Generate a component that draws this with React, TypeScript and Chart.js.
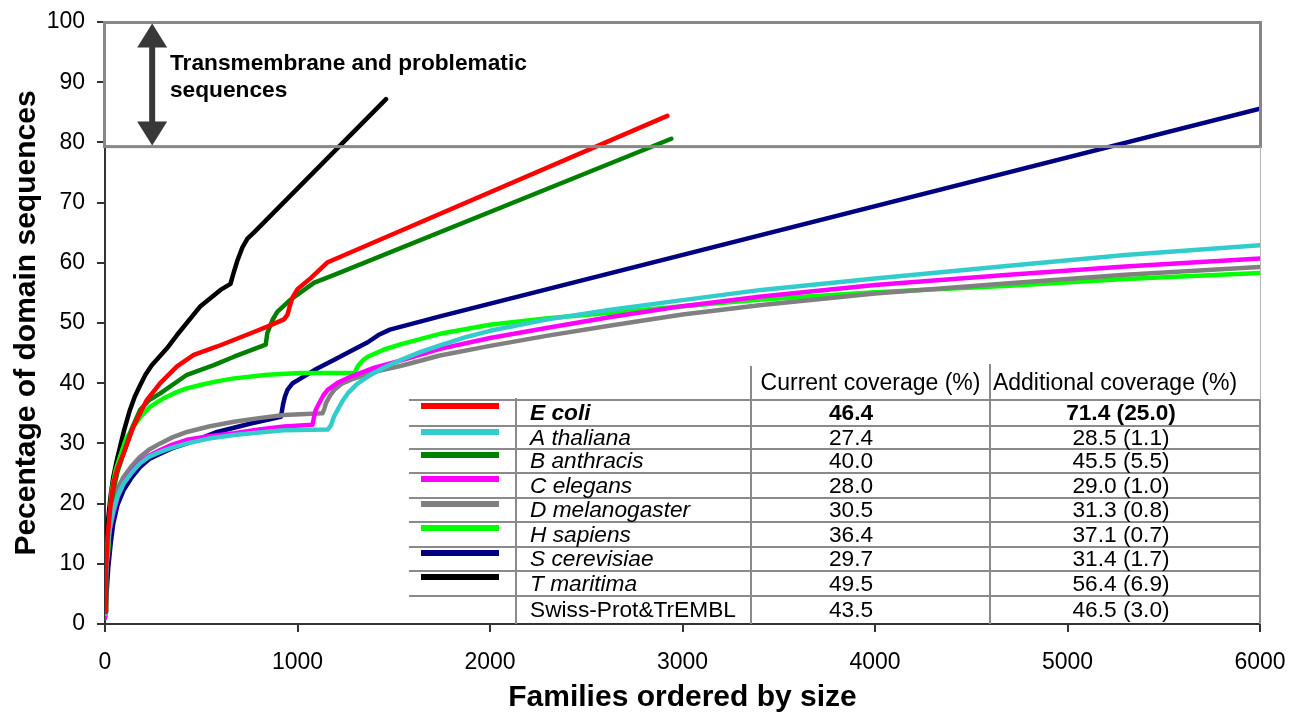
import React, { useEffect, useRef } from 'react';
import { Chart, registerables } from 'chart.js';

Chart.register(...registerables);

const FONT = "'Liberation Sans', Arial, Helvetica, sans-serif";

// ---- data: [families, percentage] ----
const eColi: [number, number][] = [
  [0, 2], [5, 9], [15, 15], [28, 19.5], [43, 23.3], [65, 25.8], [96, 28.3], [148, 32.8], [217, 37.2],
  [287, 40], [374, 42.8], [461, 44.7], [583, 46.1], [757, 48.3], [843, 49.4], [930, 50.6], [948, 51.4],
  [960, 52.8], [975, 54.3], [1000, 55.6], [1070, 57.5], [1157, 60.1], [2921, 84.4],
];
const aThaliana: [number, number][] = [
  [0, 1.7], [5, 8], [12, 12.2], [25, 16], [43, 18.9], [65, 21.2], [96, 23.3], [140, 25.2], [183, 26.7],
  [230, 27.8], [287, 28.6], [350, 29.3], [426, 30], [540, 30.8], [670, 31.4], [800, 31.8], [930, 32.2],
  [1157, 32.3], [1174, 33], [1190, 34.5], [1209, 35.6], [1235, 37.1], [1261, 38.3], [1310, 39.9],
  [1365, 41.1], [1450, 42.6], [1539, 43.9], [1640, 45.2], [1740, 46.3], [1870, 47.6], [2000, 48.7],
  [2300, 50.6], [2627, 52.2], [3000, 53.8], [3410, 55.5], [4000, 57.4], [4697, 59.5], [5300, 61.3],
  [6000, 62.9],
];
const bAnthracis: [number, number][] = [
  [0, 2], [5, 9], [15, 14.5], [28, 18.5], [43, 22.2], [65, 25.3], [96, 28.3], [140, 32.5], [183, 35.6],
  [230, 37.2], [287, 38.3], [426, 41.4], [565, 43], [670, 44.4], [835, 46.4], [843, 48.3], [870, 50.5],
  [896, 51.9], [965, 53.9], [1087, 56.7], [1191, 58], [2942, 80.6],
];
const cElegans: [number, number][] = [
  [0, 1], [6, 10.6], [20, 15], [43, 18.3], [65, 21], [96, 23.3], [140, 25.4], [183, 26.9], [230, 28],
  [287, 28.9], [350, 29.8], [426, 30.6], [540, 31.2], [670, 31.7], [800, 32.3], [930, 32.8], [1078, 33.1],
  [1085, 34.2], [1095, 35.6], [1113, 36.7], [1135, 38], [1157, 38.9], [1210, 40.1], [1278, 41.1],
  [1400, 42.6], [1539, 43.8], [1740, 45.7], [2000, 47.5], [2300, 49.2], [2627, 51.0], [3000, 52.8],
  [3410, 54.4], [4000, 56.3], [4697, 58.0], [5300, 59.4], [6000, 60.7],
];
const dMelanogaster: [number, number][] = [
  [0, 1], [6, 9.4], [20, 16], [43, 20], [65, 22.5], [96, 24.4], [140, 26.3], [183, 27.8], [230, 29],
  [287, 30], [350, 31], [426, 31.9], [540, 32.8], [670, 33.6], [800, 34.2], [930, 34.7], [1130, 35],
  [1140, 35.8], [1148, 36.7], [1170, 38], [1191, 38.9], [1230, 39.9], [1278, 40.6], [1400, 41.9],
  [1539, 42.9], [1740, 44.6], [2000, 46.2], [2300, 47.9], [2627, 49.6], [3000, 51.4], [3410, 53.0],
  [4000, 54.9], [4697, 56.6], [5300, 58.0], [6000, 59.3],
];
const hSapiens: [number, number][] = [
  [0, 3], [5, 9], [17, 12.2], [25, 18], [35, 22.2], [55, 25.5], [78, 27.8], [110, 30.8], [148, 32.8],
  [190, 34.6], [235, 36.1], [300, 37.4], [357, 38.3], [420, 39.1], [496, 39.7], [580, 40.3], [670, 40.8],
  [843, 41.4], [1017, 41.7], [1296, 41.7], [1313, 42.8], [1340, 43.8], [1365, 44.4], [1450, 45.6],
  [1539, 46.5], [1740, 48.2], [2000, 49.7], [2300, 50.8], [2627, 51.7], [3000, 52.8], [3410, 53.9],
  [4000, 55.1], [4697, 56.2], [5300, 57.3], [6000, 58.3],
];
const sCerevisiae: [number, number][] = [
  [0, 1.1], [17, 9.4], [30, 13.5], [43, 16.7], [65, 19.8], [96, 22.2], [140, 24.4], [183, 26.1],
  [230, 27.4], [287, 28.3], [350, 29.2], [426, 30], [500, 30.9], [583, 31.9], [670, 32.6], [757, 33.3],
  [913, 34.4], [918, 35.2], [925, 36.5], [935, 37.8], [948, 38.9], [975, 40], [1017, 40.8], [1100, 42.4],
  [1191, 43.9], [1280, 45.4], [1365, 46.8], [1420, 48], [1480, 48.9], [1740, 51.1], [6000, 85.6],
];
const tMaritima: [number, number][] = [
  [0, 2], [5, 10], [15, 17], [30, 21.5], [43, 24.4], [60, 27], [78, 29.4], [100, 32.3], [130, 35.6],
  [155, 37.8], [180, 39.5], [210, 41.4], [243, 43], [322, 45.8], [374, 48], [496, 52.8], [600, 55.5],
  [652, 56.5], [665, 58], [687, 60.3], [713, 62.5], [740, 64], [773, 65], [1460, 87.2],
];

const seriesData = [eColi, aThaliana, bAnthracis, cElegans, dMelanogaster, hSapiens, sCerevisiae, tMaritima];
const speciesNames = [
  'E coli', 'A thaliana', 'B anthracis', 'C elegans', 'D melanogaster', 'H sapiens', 'S cerevisiae', 'T maritima',
  'Swiss-Prot&TrEMBL',
];
const currentCoverage = ['46.4', '27.4', '40.0', '28.0', '30.5', '36.4', '29.7', '49.5', '43.5'];
const additionalCoverage = [
  '71.4 (25.0)', '28.5 (1.1)', '45.5 (5.5)', '29.0 (1.0)', '31.3 (0.8)', '37.1 (0.7)', '31.4 (1.7)',
  '56.4 (6.9)', '46.5 (3.0)',
];
const seriesColors = ['#ff0000', '#33cccc', '#008000', '#ff00ff', '#808080', '#00ff00', '#000080', '#000000'];

const xTickStep = 1000;
const yTickStep = 10;
const boxBottomValue = 79.3;
const annotationLines = ['Transmembrane and problematic', 'sequences'];
const headerLabels = ['Current coverage (%)', 'Additional coverage (%)'];

const overlayPlugin = {
  id: 'overlay',
  afterDatasetsDraw(chart: any) {
    const { ctx, chartArea, scales } = chart;
    const x = scales.x;
    const y = scales.y;
    ctx.save();

    // grey box for problematic sequences
    const boxTop = y.getPixelForValue(100) + 0.5;
    const boxBot = y.getPixelForValue(boxBottomValue);
    ctx.strokeStyle = '#878787';
    ctx.lineWidth = 3;
    ctx.strokeRect(chartArea.left - 0.5, boxTop, chartArea.right - chartArea.left + 1, boxBot - boxTop);

    // right border
    ctx.strokeStyle = '#b4b4b4';
    ctx.lineWidth = 1;
    ctx.beginPath();
    ctx.moveTo(chartArea.right + 0.5, boxBot);
    ctx.lineTo(chartArea.right + 0.5, chartArea.bottom);
    ctx.stroke();

    // double-headed arrow
    const ax = x.getPixelForValue(245);
    const aTop = boxTop + 1;
    const aBot = boxBot - 1;
    const hw = 15;
    const hl = 24;
    const sw = 3;
    ctx.fillStyle = '#383838';
    ctx.beginPath();
    ctx.moveTo(ax, aTop);
    ctx.lineTo(ax + hw, aTop + hl);
    ctx.lineTo(ax + sw, aTop + hl);
    ctx.lineTo(ax + sw, aBot - hl);
    ctx.lineTo(ax + hw, aBot - hl);
    ctx.lineTo(ax, aBot);
    ctx.lineTo(ax - hw, aBot - hl);
    ctx.lineTo(ax - sw, aBot - hl);
    ctx.lineTo(ax - sw, aTop + hl);
    ctx.lineTo(ax - hw, aTop + hl);
    ctx.closePath();
    ctx.fill();

    // annotation text
    ctx.fillStyle = '#000';
    ctx.font = `bold 22.7px ${FONT}`;
    ctx.textAlign = 'left';
    ctx.textBaseline = 'alphabetic';
    ctx.fillText(annotationLines[0], chartArea.left + 65, chartArea.top + 48);
    ctx.fillText(annotationLines[1], chartArea.left + 65, chartArea.top + 75);

    // table
    const L = chartArea.left;
    const B = chartArea.bottom;
    const colLeft = L + 304;
    const colName = L + 411;
    const colCur = L + 646;
    const colAdd = L + 885;
    const colRight = chartArea.right;
    const headerTop = B - 256;
    const rowTops = [B - 224, B - 198, B - 175, B - 151, B - 126, B - 102, B - 77, B - 53, B - 28];

    ctx.strokeStyle = '#8a8a8a';
    ctx.lineWidth = 2;
    ctx.beginPath();
    rowTops.forEach((ry) => {
      ctx.moveTo(colLeft, ry);
      ctx.lineTo(colRight, ry);
    });
    ctx.moveTo(colName, rowTops[0] - 2);
    ctx.lineTo(colName, B);
    ctx.moveTo(colCur, headerTop - 2);
    ctx.lineTo(colCur, B);
    ctx.moveTo(colAdd, headerTop - 4);
    ctx.lineTo(colAdd, B);
    ctx.moveTo(colRight, rowTops[0]);
    ctx.lineTo(colRight, B);
    ctx.stroke();

    ctx.fillStyle = '#000';
    ctx.font = `23px ${FONT}`;
    ctx.textAlign = 'center';
    ctx.textBaseline = 'middle';
    ctx.fillText(headerLabels[0], (colCur + colAdd) / 2, headerTop + 16);
    ctx.fillText(headerLabels[1], colAdd + 125, headerTop + 16);

    const curCenter = L + 746;
    const addCenter = L + 1016;
    speciesNames.forEach((name, i) => {
      const top = rowTops[i];
      const bot = i + 1 < rowTops.length ? rowTops[i + 1] : B;
      const cy = (top + bot) / 2 + 1;
      if (i < seriesColors.length) {
        ctx.strokeStyle = seriesColors[i];
        ctx.lineWidth = 6;
        ctx.beginPath();
        ctx.moveTo(L + 316, top + 6);
        ctx.lineTo(L + 394, top + 6);
        ctx.stroke();
      }
      const bold = i === 0 ? 'bold ' : '';
      const italic = i < seriesColors.length ? 'italic ' : '';
      ctx.fillStyle = '#000';
      ctx.textAlign = 'left';
      ctx.font = `${italic}${bold}22.7px ${FONT}`;
      ctx.fillText(name, colName + 14, cy);
      ctx.textAlign = 'center';
      ctx.font = `${bold}22.7px ${FONT}`;
      ctx.fillText(currentCoverage[i], curCenter, cy);
      ctx.fillText(additionalCoverage[i], addCenter, cy);
    });

    ctx.restore();
  },
};

export default function App() {
  const canvasRef = useRef<HTMLCanvasElement | null>(null);

  useEffect(() => {
    document.body.style.margin = '0';
    const canvas = canvasRef.current;
    if (!canvas) return;
    const chart = new Chart(canvas, {
      type: 'line',
      data: {
        datasets: seriesData.map((pts, i) => ({
          label: speciesNames[i],
          data: pts.map(([px, py]) => ({ x: px, y: py })),
          borderColor: seriesColors[i],
          backgroundColor: seriesColors[i],
          borderWidth: 4.5,
          pointRadius: 0,
          fill: false,
          tension: 0,
          borderCapStyle: 'round' as const,
          borderJoinStyle: 'round' as const,
        })),
      },
      options: {
        responsive: false,
        animation: false,
        devicePixelRatio: 1,
        layout: { padding: { left: 0, right: 32, top: 22, bottom: 0 } },
        plugins: {
          legend: { display: false },
          tooltip: { enabled: false },
        },
        scales: {
          x: {
            type: 'linear',
            min: 0,
            max: 6000,
            ticks: {
              stepSize: xTickStep,
              color: '#000',
              font: { family: FONT, size: 23 },
              padding: 17,
              maxRotation: 0,
              callback: (v: any) => String(v),
            },
            grid: {
              display: true,
              drawOnChartArea: false,
              drawTicks: true,
              tickLength: 8,
              color: '#333',
              lineWidth: 2,
            },
            border: { display: true, color: '#333', width: 2 },
            title: {
              display: true,
              text: 'Families ordered by size',
              color: '#000',
              font: { family: FONT, size: 30, weight: 'bold' },
              padding: { top: 0, bottom: -3 },
            },
            afterFit: (s: any) => {
              s.height = 89;
              s.paddingLeft = 0;
              s.paddingRight = 0;
            },
          },
          y: {
            type: 'linear',
            min: 0,
            max: 100,
            ticks: {
              stepSize: yTickStep,
              color: '#000',
              font: { family: FONT, size: 23 },
              padding: 12,
              callback: (v: any) => String(v),
            },
            grid: {
              display: true,
              drawOnChartArea: false,
              drawTicks: true,
              tickLength: 8,
              color: '#333',
              lineWidth: 2,
            },
            border: { display: true, color: '#333', width: 2 },
            title: {
              display: true,
              text: 'Pecentage of domain sequences',
              color: '#000',
              font: { family: FONT, size: 30, weight: 'bold' },
              padding: { top: 9, bottom: 0 },
            },
            afterFit: (s: any) => {
              s.width = 105;
              s.paddingTop = 0;
              s.paddingBottom = 0;
            },
          },
        },
      } as any,
      plugins: [overlayPlugin],
    });
    return () => chart.destroy();
  }, []);

  return (
    <div style={{ position: 'absolute', left: 0, top: 0, width: 1292, height: 713, background: '#fff' }}>
      <canvas ref={canvasRef} width={1292} height={713} style={{ width: 1292, height: 713, display: 'block' }} />
    </div>
  );
}
